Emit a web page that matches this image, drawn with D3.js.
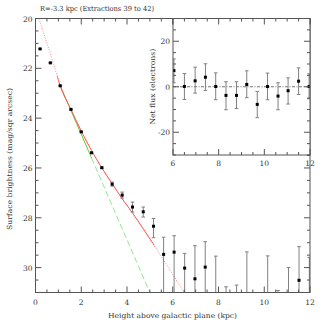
<!DOCTYPE html>
<html><head><meta charset="utf-8">
<script src="https://cdn.jsdelivr.net/npm/d3@7"></script>
<style>body{margin:0;background:#fff}svg{display:block}text{font-family:"DejaVu Serif","Liberation Serif",serif;fill:#333}</style>
</head><body><svg id="c" width="327" height="327"></svg>
<script>
// ---- data ----
const mainX   = [0.2,0.65,1.08,1.55,2.0,2.45,2.9,3.35,3.79,4.24,4.71,5.16,5.6,6.06,6.52,6.97,7.42,7.88,8.33,8.79,9.24,9.7,10.15,10.6,11.06,11.52,11.97];
const mainMag = [21.22,21.78,22.70,23.65,24.55,25.39,25.99,26.65,27.09,27.57,27.76,28.34,29.47,29.38,30.02,30.45,29.98,null,null,null,null,null,null,null,null,30.51,null];
const magTop  = [21.21,21.77,22.69,23.63,24.53,25.37,25.96,26.57,26.97,27.37,27.57,28.03,28.78,28.72,29.43,29.12,28.96,29.54,30.77,30.70,29.37,null,29.53,30.92,30.00,29.16,29.59];
const magBot  = [21.23,21.79,22.71,23.67,24.57,25.41,26.02,26.73,27.21,27.77,27.97,28.80,31.5,31.5,31.5,31.5,31.5,31.5,31.5,31.5,31.5,null,31.5,31.5,31.5,31.5,31.5];

const redX = [0.15,0.78,1.08,1.55,2.0,2.45,2.9,3.35,3.8,4.25,4.7,5.15,5.6,6.05,6.5];
const redY = [20.0,21.8,22.7,23.65,24.52,25.3,26.0,26.63,27.25,27.82,28.43,29.05,29.7,30.35,31.0];
const redFit = [0.95,5.2];
const greenX = [1.08,5.0];
const greenY = [22.7,31.0];
const greenFit = [1.08,2.45];

const insX   = [6.04,6.5,6.97,7.42,7.87,8.32,8.78,9.23,9.69,10.14,10.6,11.04,11.5,11.96];
const insF   = [7.1,0.15,2.6,4.2,0.1,-3.8,-3.8,1.0,-7.75,0.1,-4.1,-1.75,2.45,0.1];
const insHi  = [12.25,5.8,8.6,10.1,6.1,2.2,2.2,7.0,-2.05,6.0,1.75,3.9,8.3,5.7];
const insLo  = [1.75,-5.6,-2.8,-1.6,-5.7,-10.1,-9.6,-4.8,-13.6,-5.7,-10.1,-7.6,-3.4,-5.3];

const mainXTicks = [0,2,4,6,8,10,12];
const mainYTicks = [20,22,24,26,28,30];
const insXTicks = [6,8,10,12];
const insYTicks = [-20,0,20];
const title = "R=-3.3 kpc (Extractions 39 to 42)";
const xLabel = "Height above galactic plane (kpc)";
const yLabel = "Surface brightness (mag/sqr arcsec)";
const insYLabel = "Net flux (electrons)";

// ---- scales ----
const x = d3.scaleLinear([0,12],[35.5,310]);
const y = d3.scaleLinear([20,31],[18.5,292.5]);
const xi = d3.scaleLinear([6,12],[173,310]);
const yi = d3.scaleLinear([-30,30],[155,18.5]);

const svg = d3.select("#c");
const axisCol = "#555", barCol = "#808080";
const fs = 7.5, lfs = 7;

const defs = svg.append("defs");
defs.append("clipPath").attr("id","cm").append("rect")
  .attr("x",x.range()[0]).attr("y",y.range()[0]).attr("width",x.range()[1]-x.range()[0]).attr("height",y.range()[1]-y.range()[0]);
defs.append("clipPath").attr("id","ci").append("rect")
  .attr("x",xi.range()[0]).attr("y",yi.range()[1]).attr("width",xi.range()[1]-xi.range()[0]).attr("height",yi.range()[0]-yi.range()[1]);

function frame(g, sx, sy, minorX, minorY, maj){
  const [x0,x1]=sx.range(), [ya,yb]=sy.range();
  const y0=Math.min(ya,yb), y1=Math.max(ya,yb);
  g.append("rect").attr("x",x0).attr("y",y0).attr("width",x1-x0).attr("height",y1-y0)
   .attr("fill","none").attr("stroke",axisCol).attr("stroke-width",1);
  const [dx0,dx1]=sx.domain(), [dy0,dy1]=sy.domain();
  const xt = d3.range(Math.ceil(dx0/minorX)*minorX, dx1+1e-9, minorX);
  const yt = d3.range(Math.ceil(Math.min(dy0,dy1)/minorY)*minorY, Math.max(dy0,dy1)+1e-9, minorY);
  xt.forEach(v=>{
    const isMaj = Math.abs(v/maj[0]-Math.round(v/maj[0]))<1e-6;
    const L = isMaj?6:3;
    const px=sx(v);
    g.append("line").attr("x1",px).attr("x2",px).attr("y1",y1).attr("y2",y1-L).attr("stroke",axisCol);
    g.append("line").attr("x1",px).attr("x2",px).attr("y1",y0).attr("y2",y0+L).attr("stroke",axisCol);
  });
  yt.forEach(v=>{
    const isMaj = Math.abs(v/maj[1]-Math.round(v/maj[1]))<1e-6;
    const L = isMaj?6:3;
    const py=sy(v);
    g.append("line").attr("y1",py).attr("y2",py).attr("x1",x0).attr("x2",x0+L).attr("stroke",axisCol);
    g.append("line").attr("y1",py).attr("y2",py).attr("x1",x1).attr("x2",x1-L).attr("stroke",axisCol);
  });
}

// ---- main plot ----
const gm = svg.append("g");
const pm = gm.append("g").attr("clip-path","url(#cm)");

const lineXY = (sx,sy)=>d3.line().x(d=>sx(d[0])).y(d=>sy(d[1])).curve(d3.curveMonotoneX);
const redPts = redX.map((v,i)=>[v,redY[i]]);
const greenPts = greenX.map((v,i)=>[v,greenY[i]]);
const gInterp = v=>greenY[0]+(greenY[1]-greenY[0])*(v-greenX[0])/(greenX[1]-greenX[0]);

pm.append("path").attr("d",lineXY(x,y)([[greenFit[1],gInterp(greenFit[1])],greenPts[1]]))
  .attr("fill","none").attr("stroke","#8fe88f").attr("stroke-width",1).attr("stroke-dasharray","6,3");
pm.append("path").attr("d",lineXY(x,y)([[greenFit[0],gInterp(greenFit[0])],[greenFit[1],gInterp(greenFit[1])]]))
  .attr("fill","none").attr("stroke","#66cc33").attr("stroke-width",1);

pm.append("path").attr("d",lineXY(x,y)(redPts))
  .attr("fill","none").attr("stroke","#ff8c8c").attr("stroke-width",1).attr("stroke-dasharray","1,1.5");
defs.append("clipPath").attr("id","cr").append("rect")
  .attr("x",x(redFit[0])).attr("y",0).attr("width",x(redFit[1])-x(redFit[0])).attr("height",327);
pm.append("g").attr("clip-path","url(#cr)").append("path").attr("d",lineXY(x,y)(redPts))
  .attr("fill","none").attr("stroke","#ff4a4a").attr("stroke-width",0.9);

mainX.forEach((v,i)=>{
  if(magTop[i]==null) return;
  const px=x(v);
  pm.append("line").attr("x1",px).attr("x2",px).attr("y1",y(magTop[i])).attr("y2",y(magBot[i])).attr("stroke",barCol);
  [magTop[i],magBot[i]].forEach(m=>{
    pm.append("line").attr("x1",px-1.8).attr("x2",px+1.8).attr("y1",y(m)).attr("y2",y(m)).attr("stroke",barCol);
  });
});
mainX.forEach((v,i)=>{
  if(mainMag[i]==null) return;
  pm.append("rect").attr("x",x(v)-1.5).attr("y",y(mainMag[i])-1.5).attr("width",3).attr("height",3).attr("fill","#000");
});

frame(gm, x, y, 0.5, 0.5, [2,2]);

mainXTicks.forEach(v=>gm.append("text").attr("x",x(v)).attr("y",y.range()[1]+12).attr("text-anchor","middle").attr("font-size",fs).text(v));
mainYTicks.forEach(v=>gm.append("text").attr("x",x.range()[0]-3).attr("y",y(v)+3).attr("text-anchor","end").attr("font-size",fs).text(v));
svg.append("text").attr("x",108).attr("y",318).attr("font-size",lfs).attr("textLength",129).attr("lengthAdjust","spacingAndGlyphs").text(xLabel);
svg.append("text").attr("transform","translate(12,230) rotate(-90)").attr("font-size",lfs).attr("textLength",142).attr("lengthAdjust","spacingAndGlyphs").text(yLabel);
svg.append("text").attr("x",40).attr("y",11).attr("font-size",lfs).attr("textLength",114).attr("lengthAdjust","spacingAndGlyphs").text(title);

// ---- inset ----
const gi = svg.append("g");
gi.append("rect").attr("x",xi.range()[0]).attr("y",yi.range()[1]).attr("width",xi.range()[1]-xi.range()[0]).attr("height",yi.range()[0]-yi.range()[1]).attr("fill","#fff");
const pi = gi.append("g").attr("clip-path","url(#ci)");
pi.append("line").attr("x1",xi.range()[0]).attr("x2",xi.range()[1]).attr("y1",yi(0)).attr("y2",yi(0))
  .attr("stroke","#666").attr("stroke-width",0.9).attr("stroke-dasharray","3,1.5,1,1.5");
insX.forEach((v,i)=>{
  const px=xi(v);
  pi.append("line").attr("x1",px).attr("x2",px).attr("y1",yi(insHi[i])).attr("y2",yi(insLo[i])).attr("stroke",barCol);
  [insHi[i],insLo[i]].forEach(m=>pi.append("line").attr("x1",px-1.8).attr("x2",px+1.8).attr("y1",yi(m)).attr("y2",yi(m)).attr("stroke",barCol));
});
insX.forEach((v,i)=>{
  pi.append("rect").attr("x",xi(v)-1.5).attr("y",yi(insF[i])-1.5).attr("width",3).attr("height",3).attr("fill","#000");
});
frame(gi, xi, yi, 0.5, 5, [2,20]);
insXTicks.forEach(v=>gi.append("text").attr("x",xi(v)).attr("y",yi.range()[0]+11).attr("text-anchor","middle").attr("font-size",fs).text(v));
insYTicks.forEach(v=>gi.append("text").attr("x",xi.range()[0]-3).attr("y",yi(v)+3).attr("text-anchor","end").attr("font-size",fs).text(v));
svg.append("text").attr("transform",`translate(155,${yi(0)+38}) rotate(-90)`).attr("font-size",lfs).attr("textLength",76).attr("lengthAdjust","spacingAndGlyphs").text(insYLabel);
</script></body></html>
